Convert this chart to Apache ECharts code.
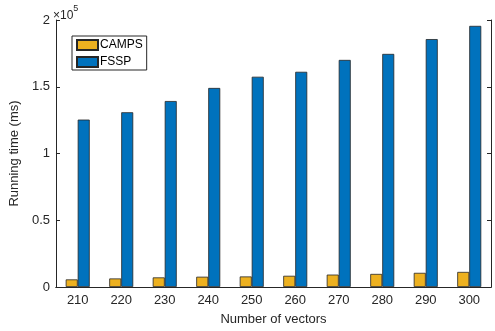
<!DOCTYPE html>
<html><head><meta charset="utf-8">
<script src="https://cdn.jsdelivr.net/npm/echarts@6/dist/echarts.min.js"></script>
<style>html,body{margin:0;padding:0;background:#fff}#c{width:495px;height:331px}</style>
</head><body><div id="c"></div>
<script>
const categories = ['210','220','230','240','250','260','270','280','290','300'];
const camps = [5700, 6400, 7200, 7700, 7900, 8400, 9300, 9800, 10600, 11300];
const fssp = [125400, 130900, 139300, 149100, 157500, 161200, 170100, 174600, 185700, 195600];
const yTicks = [0, 50000, 100000, 150000, 200000];

const ax = '#262626';
const font = 'Liberation Sans, Arial, Helvetica, sans-serif';
const chart = echarts.init(document.getElementById('c'));
chart.setOption({
  animation: false,
  backgroundColor: '#fff',
  textStyle: {fontFamily: font},
  grid: {left: 51, right: 4, top: 20, bottom: 41},
  legend: {
    orient: 'vertical', left: 72, top: 36,
    itemWidth: 21, itemHeight: 10, itemGap: 5, icon: 'rect',
    padding: [3, 4, 2, 4],
    borderColor: ax, borderWidth: 1, backgroundColor: '#fff',
    textStyle: {fontFamily: font, fontSize: 12, color: '#000', padding: [0, 0, 0, -3]},
    data: ['CAMPS', 'FSSP']
  },
  xAxis: [{
    type: 'category', data: categories,
    axisLine: {lineStyle: {color: ax, width: 1}},
    axisTick: {inside: true, alignWithLabel: true, length: 4, lineStyle: {color: ax}},
    axisLabel: {color: ax, fontSize: 13, margin: 7, fontFamily: font},
    name: 'Number of vectors', nameLocation: 'middle', nameGap: 26,
    nameTextStyle: {color: ax, fontSize: 13, fontFamily: font}
  }, {
    type: 'category', data: categories, position: 'top',
    axisLine: {lineStyle: {color: ax, width: 1}},
    axisTick: {inside: true, alignWithLabel: true, length: 4, lineStyle: {color: ax}},
    axisLabel: {show: false}
  }],
  yAxis: [{
    type: 'value', min: 0, max: 200000, interval: 50000,
    axisLine: {show: true, lineStyle: {color: ax, width: 1}},
    axisTick: {show: true, inside: true, length: 4, lineStyle: {color: ax}},
    splitLine: {show: false},
    axisLabel: {color: ax, fontSize: 13, margin: 6, fontFamily: font,
      formatter: v => yTicks.includes(v) ? String(v / 100000) : ''},
    name: 'Running time (ms)', nameLocation: 'middle', nameGap: 31,
    nameTextStyle: {color: ax, fontSize: 13, fontFamily: font}
  }, {
    type: 'value', min: 0, max: 200000, interval: 50000, position: 'right',
    axisLine: {show: true, lineStyle: {color: ax, width: 1}},
    axisTick: {show: true, inside: true, length: 4, lineStyle: {color: ax}},
    splitLine: {show: false},
    axisLabel: {show: false}
  }],
  graphic: [{
    type: 'text', left: 53, top: 4,
    style: {
      text: '{a|×10}{b|5}',
      rich: {
        a: {fontSize: 12, fontFamily: font, fill: ax, padding: [6, 0, 0, 0]},
        b: {fontSize: 9, fontFamily: font, fill: ax, verticalAlign: 'top'}
      }
    }
  }],
  series: [{
    name: 'CAMPS', type: 'bar', data: camps, barWidth: 12, barGap: '0%',
    itemStyle: {color: '#EDB120', borderColor: '#262626', borderWidth: 0.8}
  }, {
    name: 'FSSP', type: 'bar', data: fssp, barWidth: 12, barGap: '0%',
    itemStyle: {color: '#0072BD', borderColor: '#262626', borderWidth: 0.8}
  }]
});
</script></body></html>
